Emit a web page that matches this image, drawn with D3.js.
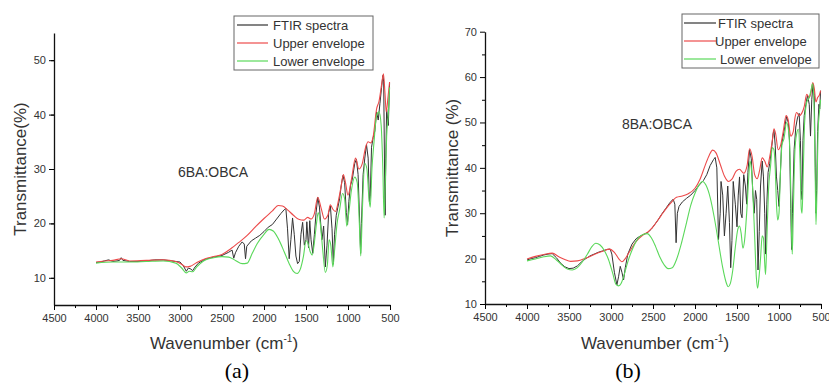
<!DOCTYPE html>
<html>
<head>
<meta charset="utf-8">
<script src="https://cdn.jsdelivr.net/npm/d3@7"></script>
<style>
  body { margin: 0; background: #fff; }
  svg { display: block; font-family: Arial, "Liberation Sans", sans-serif; }
</style>
</head>
<body>
<div id="chart"></div>
<script>
// tick values
const xTicks = [4500, 4000, 3500, 3000, 2500, 2000, 1500, 1000, 500];
const yTicksA = [10, 20, 30, 40, 50];
const yTicksB = [10, 20, 30, 40, 50, 60, 70];
const legendLabels = ["FTIR spectra", "Upper envelope", "Lower envelope"];

// (a) 6BA:OBCA  [wavenumber, transmittance]
const ftirA = [[4000,12.8],[3950,12.9],[3900,13.1],[3850,13.3],[3800,13.0],[3750,13.1],[3720,13.2],[3700,13.7],[3680,13.2],[3600,13.0],[3500,13.0],[3400,13.1],[3300,13.3],[3200,13.3],[3100,13.1],[3000,12.9],[2960,12.2],[2925,11.2],[2900,11.8],[2870,11.6],[2850,11.3],[2820,12.0],[2780,12.7],[2700,13.4],[2600,13.8],[2500,14.1],[2420,14.7],[2380,15.1],[2360,13.6],[2340,14.6],[2300,15.8],[2260,16.6],[2235,16.2],[2220,13.5],[2205,15.8],[2150,16.8],[2100,17.3],[2050,17.8],[2000,18.5],[1950,19.3],[1900,19.8],[1850,20.8],[1800,21.8],[1760,22.5],[1740,22.8],[1720,19],[1700,13.5],[1680,17],[1660,21],[1640,18],[1620,14],[1600,12.6],[1580,13],[1560,18],[1540,20.2],[1520,16],[1500,17],[1490,20.3],[1470,15.5],[1455,20.5],[1440,17],[1420,14.5],[1400,18],[1380,22],[1360,24.8],[1340,23],[1310,17],[1290,19.5],[1270,12],[1250,16],[1230,22],[1210,23.2],[1190,19],[1175,12.5],[1160,18],[1140,21.5],[1120,23],[1100,24.5],[1080,27],[1060,28.8],[1040,27.5],[1020,22],[1005,19.8],[990,24],[970,27],[950,28],[920,31],[900,31.8],[880,29],[860,20],[850,14.5],[840,20],[820,29],[800,32],[780,34.5],[760,32],[745,24],[735,25],[720,34],[700,35.8],[680,37],[660,40.5],[640,39],[620,42],[600,45],[585,47.2],[575,46],[565,30],[558,21.5],[550,32],[540,41],[520,38],[505,45.8]];
const upperA = [[4000,12.9],[3900,13.1],[3800,13.2],[3700,13.5],[3600,13.1],[3400,13.2],[3200,13.3],[3050,13.0],[2980,12.5],[2930,12.0],[2880,12.1],[2800,12.8],[2700,13.5],[2600,13.9],[2500,14.3],[2400,15.3],[2300,16.5],[2200,17.8],[2100,19.4],[2000,20.9],[1900,22.3],[1830,23.3],[1780,23.2],[1720,22.5],[1650,21.5],[1580,20.7],[1530,20.6],[1480,21.1],[1440,20.8],[1400,21.8],[1360,24.8],[1320,22.8],[1280,20.8],[1240,21.5],[1210,23.4],[1180,22.6],[1150,22.2],[1110,24.5],[1080,27],[1055,29],[1030,27.5],[1000,25.2],[960,28],[910,32],[870,30],[830,31],[790,34],[760,35],[730,34.8],[700,36],[660,41],[630,42.5],[600,45.5],[578,47.5],[560,44],[545,40.5],[525,43],[505,46]];
const lowerA = [[4000,12.7],[3800,12.9],[3600,12.9],[3400,13.0],[3200,13.1],[3050,12.7],[2980,11.8],[2925,10.9],[2890,11.2],[2850,11.1],[2800,12.0],[2720,13.1],[2600,13.7],[2500,13.9],[2420,13.8],[2340,13.2],[2260,12.6],[2200,12.7],[2140,14.5],[2080,16.3],[2000,18],[1940,18.9],[1890,18.6],[1830,17.2],[1760,14.8],[1700,12.6],[1650,11.2],[1605,10.8],[1570,11.5],[1530,14],[1500,16.8],[1480,16.5],[1450,14.8],[1425,14.2],[1400,16.5],[1375,20],[1355,22],[1330,20],[1300,15],[1270,11],[1245,12.5],[1225,17],[1205,16],[1180,12],[1160,15],[1130,20],[1100,22.5],[1065,25.5],[1040,24.5],[1015,19.5],[990,22],[960,26],[920,28.5],[890,27.5],[865,20],[848,14],[830,22],[800,31],[775,30],[750,24.5],[735,23],[715,30],[690,35],[660,39.8],[630,40.5],[605,38],[585,30],[570,21],[555,28],[540,36],[520,40],[505,45]];

// (b) 8BA:OBCA
const ftirB = [[4000,19.7],[3950,20.0],[3900,20.2],[3850,20.5],[3800,20.8],[3750,21.0],[3700,21.1],[3650,20.2],[3600,19.0],[3550,18.2],[3500,17.8],[3450,17.9],[3400,18.4],[3350,19.3],[3300,20.0],[3250,20.6],[3200,21.0],[3150,21.4],[3100,21.7],[3050,22.0],[3010,22.1],[2990,21.0],[2960,17],[2930,14.2],[2910,16],[2890,18.3],[2870,17],[2850,15.3],[2830,18],[2800,21],[2750,23.2],[2700,24.4],[2650,25],[2600,25.4],[2560,25.8],[2520,26.5],[2480,27.5],[2440,28.5],[2400,29.7],[2350,31],[2300,32.3],[2260,33.1],[2240,32],[2225,23.5],[2210,30],[2190,31.5],[2150,32.5],[2100,33.3],[2050,34],[2000,35],[1950,36.2],[1900,37.2],[1860,38.5],[1820,40.5],[1780,41.8],[1760,42.3],[1740,40],[1720,24.2],[1700,30],[1690,37],[1670,34],[1650,25],[1630,30],[1610,36],[1590,28],[1575,18],[1560,24],[1545,37],[1520,32],[1500,27],[1485,34],[1470,38],[1455,30],[1440,29],[1420,38.5],[1400,36],[1385,32],[1370,39],[1350,44],[1330,42],[1310,34],[1295,30],[1280,35],[1265,33],[1250,17.5],[1235,26],[1220,36],[1200,41.5],[1185,38],[1170,30],[1160,21],[1145,32],[1130,39],[1110,41],[1090,44],[1070,47.5],[1060,48.3],[1045,45],[1030,38],[1015,35],[1000,31.5],[985,38],[970,45],[940,48],[910,51.3],[890,50],[875,46],[860,31],[850,22],[840,30],[820,44],[800,49],[780,51],[760,52],[745,46],[735,35],[725,33],[715,46],[700,51.5],[680,54],[660,56],[640,54],[625,47],[610,55],[595,58.5],[580,56],[568,40],[560,30],[552,35],[540,48],[525,54],[515,53],[505,57]];
const upperB = [[4000,19.9],[3900,20.5],[3800,20.9],[3700,21.2],[3620,20.4],[3550,19.8],[3480,19.4],[3400,19.5],[3300,20.1],[3200,20.9],[3100,21.6],[3020,22.1],[2960,21.4],[2900,19.8],[2870,19.3],[2830,20.0],[2780,21.5],[2700,23.8],[2620,25.2],[2560,25.9],[2500,27.0],[2400,29.6],[2300,32.0],[2220,33.5],[2150,33.8],[2080,34.3],[2000,35.5],[1940,37.5],[1880,40.5],[1830,42.8],[1790,43.9],[1750,43.3],[1700,40.8],[1650,38.2],[1600,37.0],[1560,37.5],[1510,39.3],[1470,39.7],[1420,38.8],[1380,40.5],[1350,44.2],[1320,42.5],[1290,38.5],[1260,37.6],[1230,39.5],[1200,42.2],[1170,41.5],[1140,40.2],[1110,42.5],[1080,46],[1060,48.6],[1040,47.5],[1010,44],[980,45],[950,48],[915,51.5],[890,50.5],[860,47],[830,48],[810,51],[790,52.2],[760,51.5],[730,52],[700,53.5],[670,56.2],[640,55.5],[620,56.5],[598,58.8],[580,57.5],[560,54.5],[540,55.5],[520,56],[505,57]];
const lowerB = [[4000,19.5],[3900,19.9],[3800,20.4],[3720,20.6],[3650,19.7],[3580,18.5],[3520,17.7],[3460,17.5],[3400,18.0],[3340,19.3],[3280,21.0],[3230,22.6],[3180,23.4],[3130,23.0],[3080,21.8],[3030,19.8],[2980,16.8],[2940,14.3],[2910,14.0],[2880,14.5],[2850,16.0],[2800,19.3],[2740,22.3],[2680,24.4],[2620,25.3],[2570,25.5],[2520,24.6],[2470,22.7],[2420,20.4],[2370,18.7],[2320,17.8],[2270,18.0],[2220,19.8],[2160,23.5],[2100,28.0],[2050,31.8],[2000,34.4],[1950,36.3],[1910,37.0],[1870,36.2],[1820,33.5],[1770,29.0],[1720,23.5],[1670,18.0],[1630,14.8],[1605,13.8],[1580,14.5],[1550,17.5],[1520,22.5],[1490,26.5],[1470,27.2],[1450,25.5],[1430,22.3],[1410,24],[1385,30],[1360,38],[1345,41.5],[1330,40],[1310,34],[1290,25],[1270,16],[1255,13.5],[1240,15.5],[1220,20],[1200,25],[1185,24.5],[1170,19],[1160,16.5],[1145,24],[1125,35],[1100,40.5],[1080,44.5],[1060,44],[1045,40],[1030,32],[1015,28.5],[1000,30],[985,38],[965,45],[940,46.5],[910,50],[885,48],[865,40],[850,25],[842,21],[830,30],[810,44],[790,47.5],[770,48.5],[750,42],[735,31],[725,30],[710,40],[695,50],[670,54.5],[640,55.5],[620,57],[600,58.5],[585,55],[570,40],[560,27.5],[548,35],[535,48],[520,52],[505,55]];

const colors = { ftir: "#333333", upper: "#ec4a4a", lower: "#5ad85a" };

const panels = [
  { x0: 54, x1: 390, y0: 33, y1: 305, yDomain: [5, 55], yTicks: yTicksA,
    ftir: ftirA, upper: upperA, lower: lowerA,
    yTitle: "Transmittance(%)", titleX: 20, sample: "6BA:OBCA", sx: 213, sy: 177,
    legend: { x: 234, y: 16, w: 139, h: 54, line: [237, 268], text: [273, 273, 273] },
    tag: "(a)", tagX: 237 },
  { x0: 485, x1: 821, y0: 31.7, y1: 304, yDomain: [10, 70], yTicks: yTicksB,
    ftir: ftirB, upper: upperB, lower: lowerB,
    yTitle: "Transmittance (%)", titleX: 452, sample: "8BA:OBCA", sx: 657, sy: 129,
    legend: { x: 682, y: 14, w: 137, h: 54, line: [684, 716], text: [718, 715, 720] },
    tag: "(b)", tagX: 628 }
];

const svg = d3.select("#chart").append("svg")
  .attr("width", 829).attr("height", 383);

panels.forEach(p => {
  const x = d3.scaleLinear().domain([4500, 500]).range([p.x0, p.x1]);
  const y = d3.scaleLinear().domain(p.yDomain).range([p.y1, p.y0]);
  const g = svg.append("g");

  const line = d3.line().x(d => x(d[0])).y(d => y(d[1]));
  const smooth = d3.line().x(d => x(d[0])).y(d => y(d[1])).curve(d3.curveMonotoneX);

  g.append("path").datum(p.ftir)
    .attr("fill", "none").attr("stroke", colors.ftir).attr("stroke-width", 1)
    .attr("d", line);
  g.append("path").datum(p.upper)
    .attr("fill", "none").attr("stroke", colors.upper).attr("stroke-width", 1.1)
    .attr("d", smooth);
  g.append("path").datum(p.lower)
    .attr("fill", "none").attr("stroke", colors.lower).attr("stroke-width", 1.1)
    .attr("d", smooth);

  // x axis with minor ticks
  const xMinor = d3.range(4250, 500, -500);
  g.append("g").attr("transform", `translate(0,${p.y1})`)
    .call(d3.axisBottom(x).tickValues(xMinor).tickSize(3).tickFormat(""))
    .call(a => a.select(".domain").remove());
  const xa = g.append("g").attr("transform", `translate(0,${p.y1})`)
    .call(d3.axisBottom(x).tickValues(xTicks).tickSize(5).tickSizeOuter(0).tickPadding(4).tickFormat(d3.format("d")));
  xa.selectAll("text").attr("font-size", 11).attr("fill", "#333");

  // y axis with minor ticks
  const yMinor = d3.range(p.yDomain[0] + 5, p.yDomain[1] + 1, 10);
  g.append("g").attr("transform", `translate(${p.x0},0)`)
    .call(d3.axisLeft(y).tickValues(yMinor).tickSize(3).tickFormat(""))
    .call(a => a.select(".domain").remove());
  const ya = g.append("g").attr("transform", `translate(${p.x0},0)`)
    .call(d3.axisLeft(y).tickValues(p.yTicks).tickSize(5).tickSizeOuter(0).tickPadding(3));
  ya.selectAll("text").attr("font-size", 11).attr("fill", "#333");
  g.selectAll(".domain").attr("stroke-width", 1.3).attr("stroke", "#111");

  // titles
  g.append("text")
    .attr("transform", `translate(${p.titleX},${(p.y0 + p.y1) / 2}) rotate(-90)`)
    .attr("text-anchor", "middle").attr("dominant-baseline", "central")
    .attr("font-size", 17).attr("fill", "#333").text(p.yTitle);
  const xt = g.append("text")
    .attr("x", (p.x0 + p.x1) / 2 + 2).attr("y", 349)
    .attr("text-anchor", "middle").attr("font-size", 17).attr("fill", "#333");
  xt.append("tspan").text("Wavenumber (cm");
  xt.append("tspan").attr("font-size", 10).attr("dy", -7).text("-1");
  xt.append("tspan").attr("dy", 7).text(")");

  g.append("text").attr("x", p.sx).attr("y", p.sy)
    .attr("text-anchor", "middle").attr("font-size", 14).attr("fill", "#333")
    .text(p.sample);

  g.append("text").attr("x", p.tagX).attr("y", 378)
    .attr("text-anchor", "middle").attr("font-size", 22)
    .attr("font-family", "'Liberation Serif', 'Times New Roman', serif")
    .text(p.tag);

  // legend
  const L = p.legend;
  g.append("rect").attr("x", L.x).attr("y", L.y).attr("width", L.w).attr("height", L.h)
    .attr("fill", "#fff").attr("stroke", "#666").attr("stroke-width", 1);
  [colors.ftir, colors.upper, colors.lower].forEach((c, i) => {
    const ly = L.y + 9 + i * 18;
    g.append("line").attr("x1", L.line[0]).attr("x2", L.line[1])
      .attr("y1", ly).attr("y2", ly).attr("stroke", c).attr("stroke-width", 1.2);
    g.append("text").attr("x", L.text[i]).attr("y", ly)
      .attr("dominant-baseline", "central").attr("font-size", 13).attr("fill", "#333")
      .text(legendLabels[i]);
  });
});
</script>
</body>
</html>
